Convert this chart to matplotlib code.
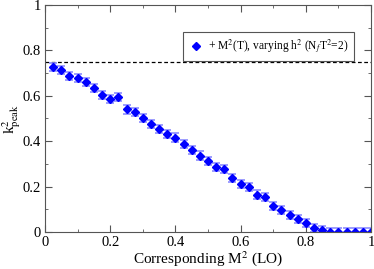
import numpy as np
import matplotlib
matplotlib.use("Agg")
import matplotlib.pyplot as plt
from matplotlib.ticker import MultipleLocator
from matplotlib.lines import Line2D

plt.rcParams['font.family'] = ['Liberation Serif', 'DejaVu Serif']
plt.rcParams['mathtext.fontset'] = 'stix'

# donnees
m2 = [0.025, 0.05, 0.075, 0.1, 0.125, 0.15, 0.175, 0.2, 0.225, 0.25,
      0.275, 0.3, 0.325, 0.35, 0.375, 0.4, 0.425, 0.45, 0.475, 0.5,
      0.525, 0.55, 0.575, 0.6, 0.625, 0.65, 0.675, 0.7, 0.725, 0.75,
      0.775, 0.8, 0.825, 0.85, 0.875, 0.9, 0.925, 0.95, 0.975, 1.0]
k2 = [0.727, 0.712, 0.689, 0.677, 0.659, 0.635, 0.605, 0.586, 0.595, 0.540,
      0.530, 0.502, 0.474, 0.453, 0.432, 0.416, 0.389, 0.362, 0.337, 0.313,
      0.288, 0.276, 0.238, 0.210, 0.199, 0.165, 0.153, 0.115, 0.096, 0.076,
      0.056, 0.038, 0.018, 0.008, 0.0, 0.0, 0.0, 0.0, 0.0, 0.0]
k2_err = [0.018] * len(m2)
k2_ref = 0.75

fig = plt.figure(figsize=(3.74, 2.69), dpi=100)
ax = fig.add_axes([45 / 374, 1 - 232 / 269, 326 / 374, 227 / 269])

ax.axhline(k2_ref, color='black', ls=(0, (3, 2)), lw=0.9)
ax.errorbar(m2, k2, yerr=k2_err, fmt='D', color='#0000ff', ms=4.5,
            ecolor='#8c8cff', elinewidth=1.2, capsize=3.2, capthick=1.2)

ax.set_xlim(0, 1)
ax.set_ylim(0, 1)
ax.xaxis.set_major_locator(MultipleLocator(0.2))
ax.xaxis.set_minor_locator(MultipleLocator(0.1))
ax.yaxis.set_major_locator(MultipleLocator(0.2))
ax.yaxis.set_minor_locator(MultipleLocator(0.1))
ax.xaxis.set_major_formatter(plt.FuncFormatter(lambda v, p: '%g' % round(v, 2)))
ax.yaxis.set_major_formatter(plt.FuncFormatter(lambda v, p: '%g' % round(v, 2)))
ax.tick_params(which='both', direction='in', top=True, right=True, labelsize=10.5,
               color='#555555', pad=3)
ax.tick_params(which='major', length=5)
ax.tick_params(which='minor', length=2.5)
for s in ax.spines.values():
    s.set_color('#555555')

ax.set_xlabel(r'Corresponding M$^2$ (LO)', fontsize=11, labelpad=0)
ax.set_ylabel(r'k$^2_{\rm peak}$', fontsize=11, labelpad=0)

handle = Line2D([], [], ls='none', marker='D', color='#0000ff', ms=4.5)
leg = ax.legend([handle], [r'+ M$^2$(T), varying h$^2$ (N$_f$T$^2$=2)'],
                loc='upper right', bbox_to_anchor=(0.947, 0.88), fontsize=8.3,
                handletextpad=0.5, handlelength=1.2, borderpad=0.45,
                borderaxespad=0, fancybox=False, framealpha=1)
leg.get_frame().set_edgecolor('#555555')
leg.get_frame().set_linewidth(0.8)

fig.savefig('out.png', dpi=100)
